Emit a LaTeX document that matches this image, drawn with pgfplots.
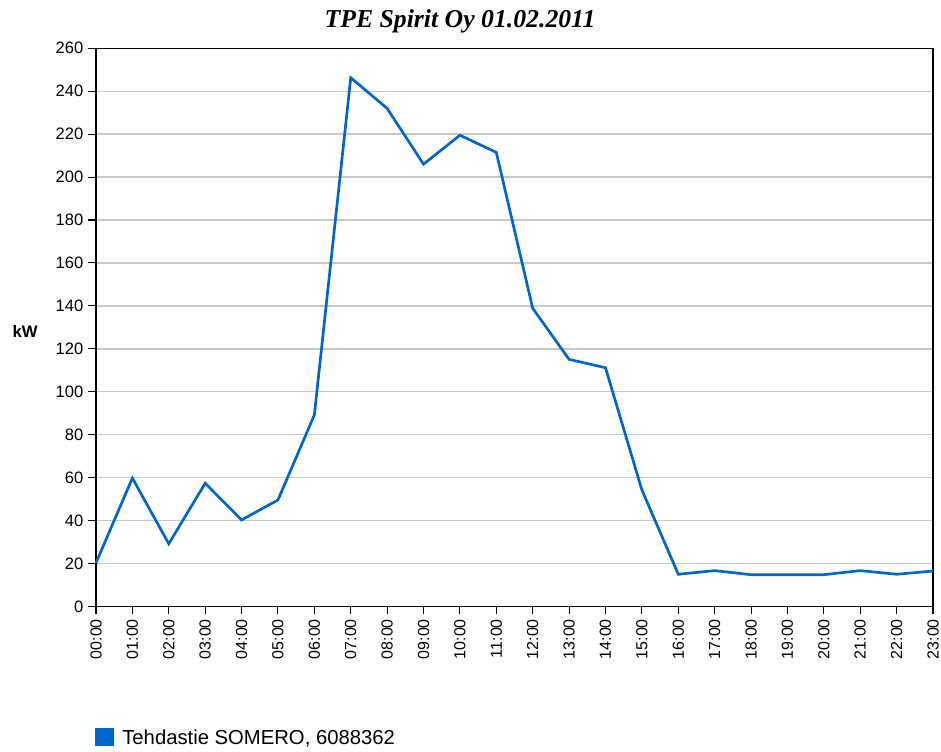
\documentclass[border=0pt]{standalone}
\usepackage{pgfplots}
\pgfplotsset{compat=1.18}
\usepackage{fontspec}
\setmainfont{Liberation Sans}
\newfontfamily\titlefont{Liberation Serif}
\definecolor{lineblue}{RGB}{0,102,204}
\definecolor{gridgray}{RGB}{200,200,200}
\begin{document}
\begin{tikzpicture}
\useasboundingbox (-72pt,-108.4pt) rectangle (633.75pt,454.85pt);
\begin{axis}[
  at={(0,0)}, anchor=south west,
  scale only axis, clip=false,
  width=627.75pt, height=418.65pt,
  xmin=0, xmax=23, ymin=0, ymax=260,
  xtick={0,...,23},
  xticklabels={00:00,01:00,02:00,03:00,04:00,05:00,06:00,07:00,08:00,09:00,10:00,11:00,12:00,13:00,14:00,15:00,16:00,17:00,18:00,19:00,20:00,21:00,22:00,23:00},
  ytick={0,20,...,260},
  x tick label style={rotate=90, anchor=east, font=\fontsize{12}{13}\selectfont},
  y tick label style={font=\fontsize{12.4}{13}\selectfont},
  /pgf/number format/assume math mode=true,
  tick align=outside,
  xtick pos=bottom, ytick pos=left,
  major tick length=6pt,
  tick style={black, line width=0.8pt},
  ymajorgrids,
  grid style={gridgray, line width=1pt},
  axis line style={black, line width=1pt},
  legend style={at={(rel axis cs:-0.0012,-0.2338)}, anchor=west, draw=none, fill=none,
    font=\fontsize{15.2}{17}\selectfont, inner sep=0pt,
    nodes={inner sep=0pt, text depth=0pt}},
  legend image code/.code={\fill[lineblue] (0pt,-5.8pt) rectangle (12.3pt,5.8pt);},
  legend cell align=left,
]
\addplot[lineblue, line width=2pt] coordinates {
(0,20.3) (1,59.8) (2,29.2) (3,57.4) (4,40.3) (5,49.6) (6,89.2) (7,246.3)
(8,232) (9,206) (10,219.5) (11,211.5) (12,138.9) (13,115.1) (14,111.2) (15,54.3)
(16,15) (17,16.7) (18,14.8) (19,14.8) (20,14.8) (21,16.7) (22,15) (23,16.5)
};
\addlegendentry{\hspace{6pt}Tehdastie SOMERO, 6088362}
\node[font=\titlefont\bfseries\itshape\fontsize{19.3}{22}\selectfont, anchor=base, inner sep=0pt]
  at (rel axis cs:0.435,1.038) {TPE Spirit Oy 01.02.2011};
\node[font=\bfseries\fontsize{12.5}{13}\selectfont, inner sep=0pt] at (rel axis cs:-0.0848,0.4918) {kW};
\end{axis}
\end{tikzpicture}
\end{document}
